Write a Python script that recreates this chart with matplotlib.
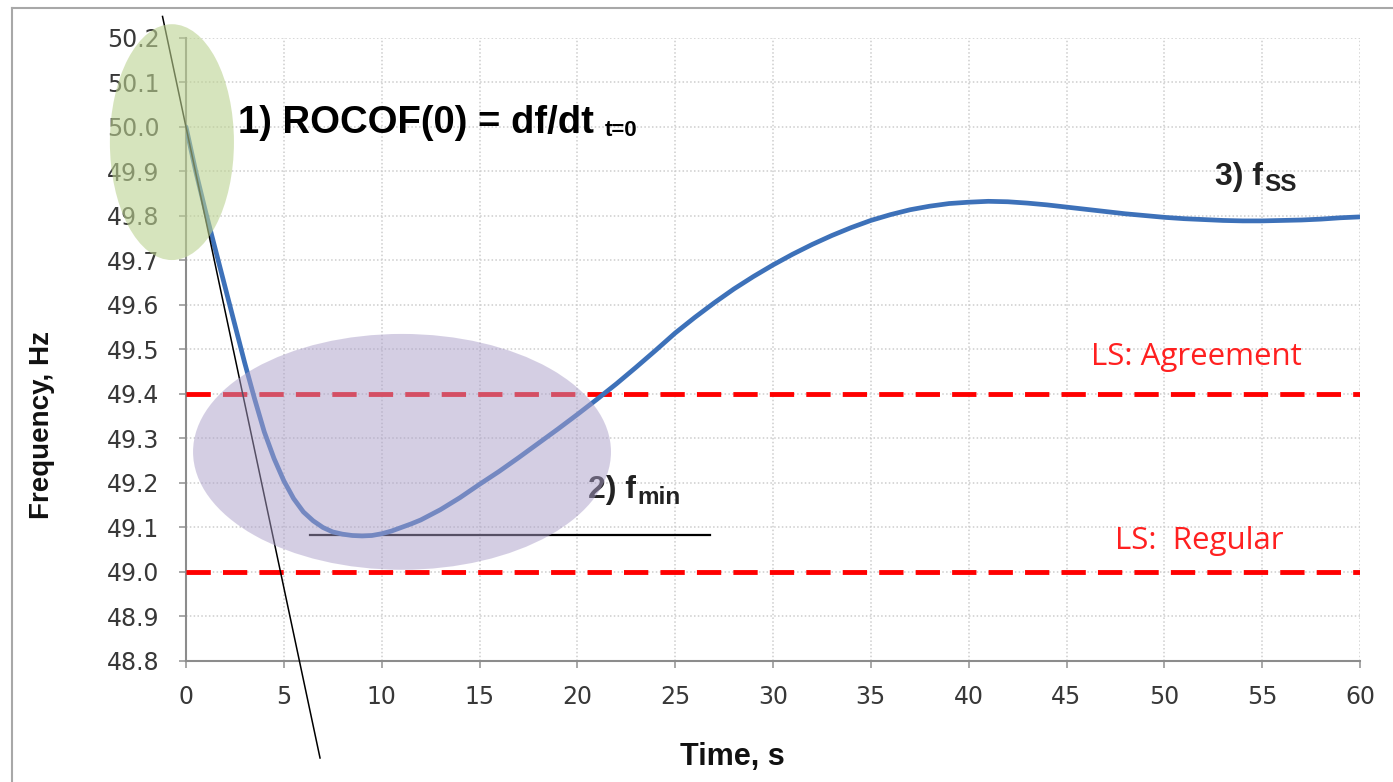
import matplotlib
matplotlib.use("Agg")
import matplotlib.pyplot as plt
from matplotlib.patches import Ellipse
from matplotlib.lines import Line2D

# ---------------- data ----------------
time_s = [0, 0.5, 1.0, 1.5, 2.0, 2.5, 3.0, 3.5, 4.0, 4.5, 5.0, 5.5, 6.0, 6.5,
          7.0, 7.5, 8.0, 8.5, 9.0, 9.5, 10, 10.5, 11, 11.5, 12, 13, 14, 15, 16,
          17, 18, 19, 20, 21, 22, 23, 24, 25, 26, 27, 28, 29, 30, 31, 32, 33,
          34, 35, 36, 37, 38, 39, 40, 41, 42, 43, 44, 45, 46, 47, 48, 49, 50,
          51, 52, 53, 54, 55, 56, 57, 58, 59, 60]
freq_hz = [50.0, 49.9, 49.81, 49.725, 49.64, 49.555, 49.47, 49.39, 49.315,
           49.255, 49.205, 49.165, 49.135, 49.115, 49.10, 49.09, 49.085, 49.082,
           49.081, 49.082, 49.086, 49.092, 49.10, 49.108, 49.117, 49.14, 49.167,
           49.197, 49.226, 49.257, 49.289, 49.321, 49.354, 49.388, 49.423, 49.46,
           49.498, 49.537, 49.572, 49.605, 49.636, 49.664, 49.690, 49.714, 49.736,
           49.756, 49.774, 49.79, 49.803, 49.814, 49.822, 49.828, 49.831, 49.833,
           49.832, 49.829, 49.825, 49.82, 49.815, 49.81, 49.805, 49.801, 49.797,
           49.794, 49.792, 49.79, 49.789, 49.789, 49.79, 49.791, 49.793, 49.796,
           49.798]

f0 = 50.0
rocof = -0.207            # Hz/s, slope of the tangent at t=0
tangent_t = [-1.2, 6.85]
f_min = 49.083
fmin_line_t = [6.34, 26.8]
ls_agreement = 49.4
ls_regular = 49.0

x_ticks = list(range(0, 61, 5))
y_ticks = [48.8, 48.9, 49.0, 49.1, 49.2, 49.3, 49.4, 49.5, 49.6, 49.7, 49.8,
           49.9, 50.0, 50.1, 50.2]

W, H = 1393, 782

fig = plt.figure(figsize=(W / 100, H / 100), dpi=100)
ax = fig.add_axes([186 / W, 1 - 661 / H, (1360 - 186) / W, (661 - 38) / H])
ax.set_xlim(0, 60)
ax.set_ylim(48.8, 50.2)

for s in ['top', 'right']:
    ax.spines[s].set_visible(False)
for s in ['left', 'bottom']:
    ax.spines[s].set_color('#8c8c8c')
    ax.spines[s].set_linewidth(1.5)

ax.set_xticks(x_ticks)
ax.set_yticks(y_ticks)
ax.set_yticklabels([f"{v:.1f}" for v in y_ticks])
ax.tick_params(axis='both', direction='out', length=5, width=1.2, color='#9a9a9a',
               labelsize=17, labelcolor='#383838')
ax.tick_params(axis='x', pad=12)
ax.tick_params(axis='y', pad=14)
for lab in ax.get_xticklabels() + ax.get_yticklabels():
    lab.set_family('DejaVu Sans')

ax.set_axisbelow(True)
ax.grid(True, color='#cdcdcd', linestyle=(0, (1, 1.5)), linewidth=1.1)

# load-shedding thresholds
ax.axhline(ls_agreement, color='#ff0000', lw=3.5, linestyle=(0, (5, 2.5)), zorder=3)
ax.axhline(ls_regular, color='#ff0000', lw=3.5, linestyle=(0, (5, 2.5)), zorder=3)

# f_min line
ax.plot(fmin_line_t, [f_min, f_min], color='black', lw=1.6, zorder=3)

# frequency curve
ax.plot(time_s, freq_hz, color='#3d71b9', lw=3.4, zorder=4,
        solid_capstyle='round', solid_joinstyle='round')

# tangent line (ROCOF at t=0)
tangent_f = [f0 + rocof * t for t in tangent_t]
ax.plot(tangent_t, tangent_f, color='black', lw=1.1, zorder=4, clip_on=False)

# highlight ellipses
ax.add_patch(Ellipse((-0.72, 49.966), 6.34, 0.53, facecolor='#bcd291', alpha=0.6,
                     edgecolor='none', zorder=10, clip_on=False))
ax.add_patch(Ellipse((11.04, 49.270), 21.36, 0.53, facecolor='#ab9fc9', alpha=0.5,
                     edgecolor='none', zorder=10, clip_on=False))

# annotations
t1 = ax.text(2.66, 49.987, '1) ROCOF(0) = df/dt', fontsize=27.5, fontweight='bold',
             family='Liberation Sans', color='black', ha='left', va='baseline', zorder=6)
ax.annotate('t=0', xy=(1, 0), xycoords=t1, xytext=(8, 0), textcoords='offset points',
            fontsize=16, fontweight='bold', family='Liberation Sans', ha='left',
            va='bottom', zorder=6)

t2 = ax.text(20.54, 49.166, '2) f', fontsize=23, fontweight='bold',
             family='Liberation Sans', color='#222222', ha='left', va='baseline', zorder=6)
ax.annotate('min', xy=(1, 0), xycoords=t2, xytext=(1, -3), textcoords='offset points',
            fontsize=17.5, fontweight='bold', family='Liberation Sans', color='#222222',
            ha='left', va='bottom', zorder=6)

t3 = ax.text(52.58, 49.870, '3) f', fontsize=23, fontweight='bold',
             family='Liberation Sans', color='#222222', ha='left', va='baseline', zorder=6)
ax.annotate('SS', xy=(1, 0), xycoords=t3, xytext=(1, -3), textcoords='offset points',
            fontsize=17.5, fontweight='bold', family='Liberation Sans', color='#222222',
            ha='left', va='bottom', zorder=6)

ax.text(51.66, 49.483, 'LS: Agreement', fontsize=22.5, family='Open Sans', color='#ff2020',
        ha='center', va='center', zorder=6)
ax.text(51.8, 49.070, 'LS:  Regular', fontsize=22.5, family='Open Sans', color='#ff2020',
        ha='center', va='center', zorder=6)

# axis titles
fig.text(42 / W, 1 - 425 / H, 'Frequency, Hz', rotation=90, ha='center', va='center',
         fontsize=20, fontweight='bold', family='Liberation Sans', color='#111111')
fig.text(732 / W, 1 - 757 / H, 'Time, s', ha='center', va='center',
         fontsize=22, fontweight='bold', family='Liberation Sans', color='#111111')

# outer frame
fig.add_artist(Line2D([12 / W, 12 / W], [0, 1 - 8 / H], transform=fig.transFigure,
                      color='#a8a8a8', lw=1.5))
fig.add_artist(Line2D([12 / W, 1], [1 - 8 / H, 1 - 8 / H], transform=fig.transFigure,
                      color='#a8a8a8', lw=1.5))

fig.savefig('out.png', dpi=100)
